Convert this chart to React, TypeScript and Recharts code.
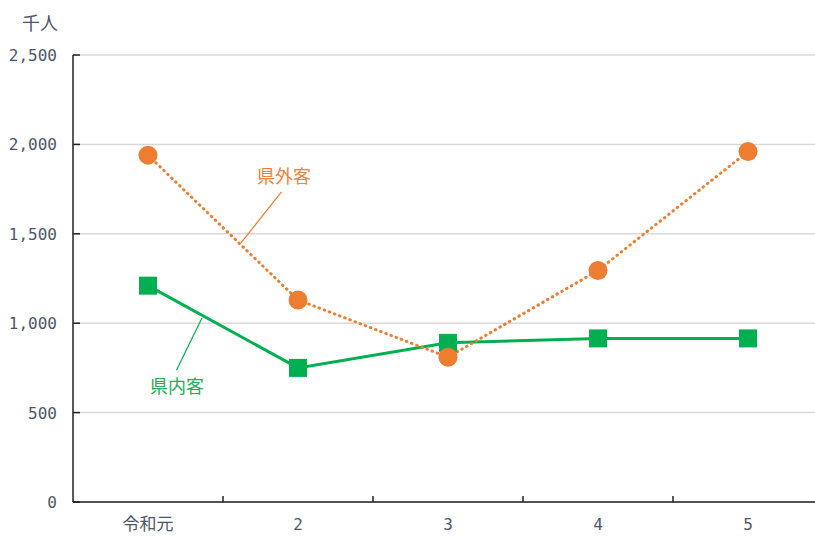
import React from 'react';
import {
	LineChart,
	Line,
	XAxis,
	YAxis,
	CartesianGrid,
	ReferenceLine,
	ReferenceDot,
} from 'recharts';

// 観光客数（千人）
const categories = ['令和元', '2', '3', '4', '5'];
const outsideVisitors = [1940, 1130, 810, 1295, 1960]; // 県外客
const insideVisitors = [1210, 750, 890, 915, 915]; // 県内客
const yTicks = [0, 500, 1000, 1500, 2000, 2500];
const xTicks = [0, 0.5, 1, 1.5, 2, 2.5, 3, 3.5, 4];

const COLORS = {
	outside: '#ED7D31',
	outsideText: '#F0833A',
	inside: '#00B050',
	insideText: '#1DAE5A',
	axis: '#222222',
	grid: '#d9d9d9',
	text: '#4d5668',
};

const CJK = '"Noto Sans CJK JP", "Noto Sans", sans-serif';
const NUM = '"DejaVu Sans Mono", monospace';

const data = categories.map((c, i) => ({
	idx: i,
	name: c,
	outside: outsideVisitors[i],
	inside: insideVisitors[i],
}));

function YTick({ x, y, payload }: any) {
	return (
		<g>
			<line x1={x} y1={y} x2={x + 7} y2={y} stroke={COLORS.axis} strokeWidth={1.5} />
			<text
				x={x - 16}
				y={y}
				dy={6}
				textAnchor="end"
				fill={COLORS.text}
				fontSize={16}
				fontFamily={NUM}
			>
				{payload.value.toLocaleString('en-US')}
			</text>
		</g>
	);
}

function XTick({ x, y, payload }: any) {
	const v = payload.value;
	if (!Number.isInteger(v)) {
		// category boundary tick, pointing up into the plot
		return <line x1={x} y1={y} x2={x} y2={y - 6} stroke={COLORS.axis} strokeWidth={1.5} />;
	}
	const isNum = /^[0-9]+$/.test(categories[v]);
	return (
		<text
			x={x}
			y={y + 22}
			dy={6}
			textAnchor="middle"
			fill={COLORS.text}
			fontSize={isNum ? 16 : 17}
			fontFamily={isNum ? NUM : CJK}
		>
			{categories[v]}
		</text>
	);
}

function SquareDot({ cx, cy, index }: any) {
	return <rect key={`sq-${index}`} x={cx - 9} y={cy - 9} width={18} height={18} fill={COLORS.inside} />;
}

export default function App() {
	return (
		<div
			style={{
				position: 'absolute',
				left: 0,
				top: 0,
				width: 815,
				height: 538,
				overflow: 'hidden',
				background: '#fff',
			}}
		>
			<div
				style={{
					position: 'absolute',
					left: 22,
					top: 9,
					fontFamily: CJK,
					fontSize: 18,
					color: COLORS.text,
				}}
			>
				千人
			</div>
			<LineChart
				width={840}
				height={538}
				data={data}
				margin={{ top: 55, right: 17, left: 0, bottom: 0 }}
			>
				<CartesianGrid vertical={false} stroke={COLORS.grid} strokeWidth={1.5} />
				<XAxis
					dataKey="idx"
					type="number"
					domain={[-0.5, 4.5]}
					ticks={xTicks}
					interval={0}
					tick={<XTick />}
					tickLine={false}
					tickSize={0}
					tickMargin={0}
					height={36}
					axisLine={{ stroke: COLORS.axis, strokeWidth: 1.5 }}
				/>
				<YAxis
					type="number"
					domain={[0, 2500]}
					ticks={yTicks}
					interval={0}
					width={73}
					tick={<YTick />}
					tickLine={false}
					tickSize={0}
					tickMargin={0}
					axisLine={{ stroke: COLORS.axis, strokeWidth: 1.5 }}
				/>

				{/* 引き出し線とラベル */}
				<ReferenceLine
					segment={[
						{ x: 0.89, y: 1734 },
						{ x: 0.62, y: 1449 },
					]}
					stroke={COLORS.outside}
					strokeWidth={1.2}
				/>
				<ReferenceLine
					segment={[
						{ x: 0.36, y: 1029 },
						{ x: 0.19, y: 738 },
					]}
					stroke={COLORS.inside}
					strokeWidth={1.2}
				/>
				<ReferenceDot
					x={0.907}
					y={1818}
					r={0}
					stroke="none"
					fill="none"
					label={{
						value: '県外客',
						position: 'center',
						fill: COLORS.outsideText,
						fontSize: 18,
						fontFamily: CJK,
					}}
				/>
				<ReferenceDot
					x={0.193}
					y={643}
					r={0}
					stroke="none"
					fill="none"
					label={{
						value: '県内客',
						position: 'center',
						fill: COLORS.insideText,
						fontSize: 18,
						fontFamily: CJK,
					}}
				/>

				<Line
					dataKey="inside"
					stroke={COLORS.inside}
					strokeWidth={3}
					dot={<SquareDot />}
					activeDot={false}
					isAnimationActive={false}
				/>
				<Line
					dataKey="outside"
					stroke={COLORS.outside}
					strokeWidth={3}
					strokeDasharray="0.5 5"
					strokeLinecap="round"
					dot={{ r: 9.5, fill: COLORS.outside, stroke: 'none', strokeDasharray: '' }}
					activeDot={false}
					isAnimationActive={false}
				/>
			</LineChart>
		</div>
	);
}
